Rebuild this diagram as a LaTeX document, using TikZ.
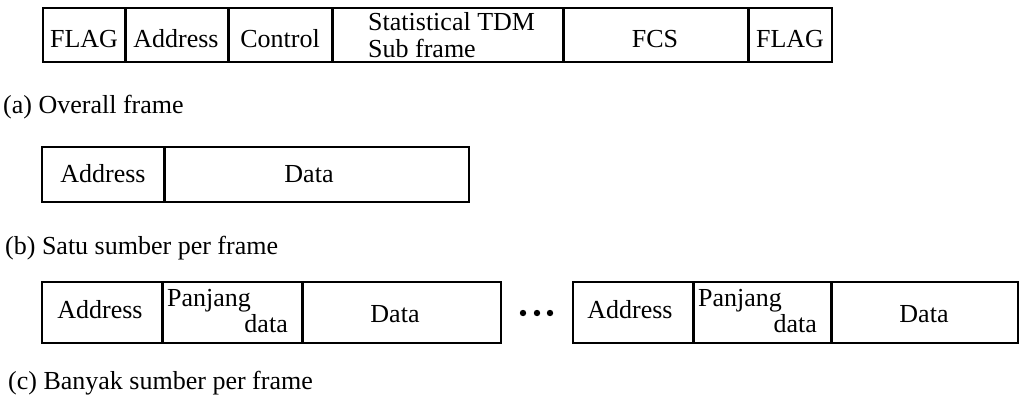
\documentclass[tikz,border=0pt]{standalone}
\usepackage{fontspec}
\setmainfont{Liberation Serif}
\usetikzlibrary{positioning}

\begin{document}
\begin{tikzpicture}[x=1pt, y=-1pt, font=\fontsize{26}{28}\selectfont,
  frame/.style={line width=1.5pt},
  sep/.style={line width=3pt},
  fld/.style={anchor=base, inner sep=0pt},
  lbl/.style={anchor=base west, inner sep=0pt}]
  \useasboundingbox (0,0) rectangle (1020,397);
  % (a) overall frame
  \draw [frame] (43,8) rectangle (832,62);
  \foreach \x in {125,228,332,563,748}
    \draw [sep] (\x,8) -- (\x,62);
  \node [fld] (flagL) at (84,47) {FLAG};
  \node [fld] (addrA) at (176,47) {Address};
  \node [fld] (ctrl) at (280,47) {Control};
  \node [lbl] (stat) at (368,30) {Statistical TDM};
  \node [lbl] (sub) at (368,57) {Sub frame};
  \node [fld] (fcs) at (655,47) {FCS};
  \node [fld] (flagR) at (790,47) {FLAG};
  \node [lbl] (capA) at (3,113) {(a) Overall frame};
  % (b) satu sumber
  \draw [frame] (42,147) rectangle (469,202);
  \draw [sep] (164,147) -- (164,202);
  \node [fld] (addrB) at (103,182) {Address};
  \node [fld] (dataB) at (309,182) {Data};
  \node [lbl] (capB) at (5,254) {(b) Satu sumber per frame};
  % (c) banyak sumber
  \draw [frame] (42,282) rectangle (501,343);
  \draw [sep] (162,282) -- (162,343);
  \draw [sep] (302,282) -- (302,343);
  \node [fld] (addrC) at (100,318) {Address};
  \node [lbl] (panC) at (167,306) {Panjang};
  \node [fld, anchor=base east] (lenC) at (288,332) {data};
  \node [fld] (dataC) at (395,322) {Data};
  \foreach \x in {523,537,550}
    \fill (\x,313) circle [radius=3.2];
  \draw [frame] (573,282) rectangle (1018,343);
  \draw [sep] (693,282) -- (693,343);
  \draw [sep] (831,282) -- (831,343);
  \node [fld] (addrD) at (630,318) {Address};
  \node [lbl] (panD) at (698,306) {Panjang};
  \node [fld, anchor=base east] (lenD) at (817,332) {data};
  \node [fld] (dataD) at (924,322) {Data};
  \node [lbl] (capC) at (8,389) {(c) Banyak sumber per frame};
\end{tikzpicture}
\end{document}
